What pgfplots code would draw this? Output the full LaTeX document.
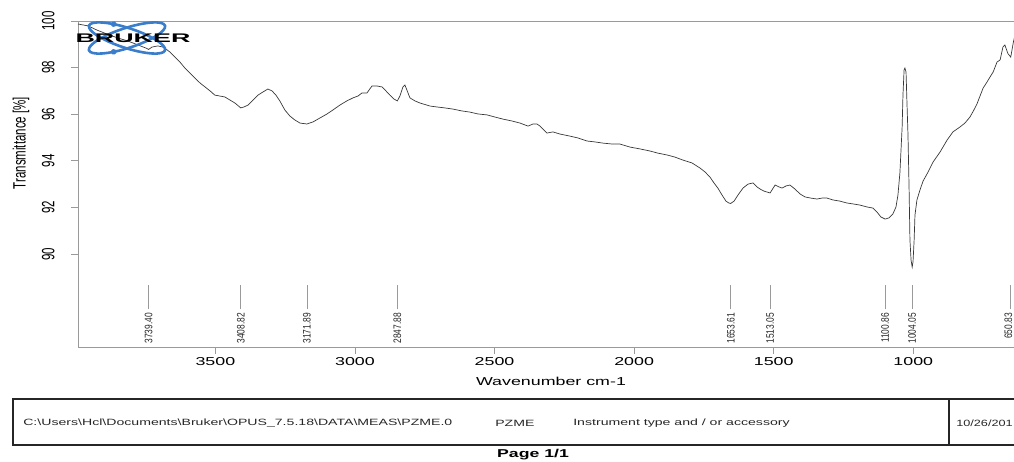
\documentclass[border=0pt]{standalone}
\usepackage{pgfplots}
\pgfplotsset{compat=1.18}
\usepackage{pgfplotstable}
\usepackage{fontspec}
\setmainfont{Liberation Sans}
\definecolor{logoblue}{HTML}{3A7DCB}
\definecolor{axgray}{HTML}{9A9A9A}

\pgfplotstableread{
wn T
3992 99.87
3956 99.79
3924 99.61
3888 99.44
3849 99.27
3813 99.14
3777 98.97
3749 98.84
3739 98.78
3727 98.88
3706 98.93
3688 98.88
3677 98.80
3663 98.67
3645 98.45
3627 98.24
3609 97.98
3591 97.77
3573 97.55
3555 97.34
3537 97.17
3519 97.00
3502 96.82
3484 96.78
3466 96.74
3448 96.61
3430 96.48
3409 96.27
3398 96.31
3383 96.39
3365 96.61
3347 96.82
3330 96.95
3312 97.08
3297 97.00
3283 96.82
3269 96.57
3251 96.18
3233 95.92
3215 95.75
3197 95.62
3172 95.58
3150 95.67
3125 95.84
3100 96.01
3079 96.18
3054 96.39
3029 96.57
3007 96.70
2989 96.78
2975 96.91
2957 96.91
2939 97.21
2921 97.21
2903 97.17
2889 97.00
2875 96.82
2860 96.65
2848 96.57
2839 96.78
2828 97.17
2821 97.25
2814 97.04
2803 96.70
2785 96.57
2767 96.48
2731 96.35
2706 96.31
2678 96.27
2649 96.22
2617 96.14
2588 96.09
2559 96.01
2527 95.97
2499 95.88
2470 95.79
2438 95.71
2409 95.62
2380 95.49
2362 95.58
2348 95.58
2337 95.49
2323 95.32
2312 95.19
2291 95.24
2266 95.15
2230 95.06
2201 94.98
2169 94.85
2140 94.81
2112 94.76
2079 94.72
2051 94.72
2015 94.59
1979 94.51
1943 94.42
1915 94.33
1882 94.25
1854 94.16
1825 94.03
1793 93.91
1764 93.69
1746 93.52
1728 93.30
1714 93.05
1700 92.83
1685 92.53
1671 92.27
1661 92.19
1654 92.17
1642 92.27
1628 92.53
1610 92.83
1592 93.00
1574 93.05
1560 92.88
1549 92.79
1535 92.70
1513 92.62
1495 92.96
1481 92.88
1470 92.83
1456 92.92
1442 92.96
1424 92.79
1406 92.58
1388 92.45
1367 92.40
1345 92.36
1327 92.40
1309 92.40
1288 92.32
1263 92.27
1238 92.19
1216 92.15
1191 92.10
1166 92.02
1144 91.97
1130 91.80
1116 91.59
1101 91.50
1087 91.55
1073 91.72
1062 92.02
1055 92.53
1048 93.48
1044 94.46
1040 95.45
1037 96.82
1033 97.90
1030 97.98
1026 97.81
1023 96.61
1019 95.11
1015 92.75
1012 90.60
1008 89.74
1004 89.44
1001 89.66
997 90.60
994 91.67
987 92.32
976 92.75
965 93.13
947 93.52
929 93.95
904 94.38
879 94.89
858 95.24
833 95.45
815 95.62
797 95.88
783 96.18
772 96.44
761 96.78
750 97.12
736 97.38
725 97.60
714 97.81
700 98.24
689 98.33
679 98.88
672 98.97
661 98.60
651 98.45
642 99.06
636 99.40
}\spec

\begin{document}
\begin{tikzpicture}[x=1pt,y=1pt]
\path[use as bounding box] (0,0) rectangle (1014,462);
\begin{axis}[
  at={(78pt,115pt)}, anchor=south west,
  width=936pt, height=326pt, scale only axis,
  x dir=reverse, xmin=639.3, xmax=3992, ymin=86.01, ymax=100,
  axis x line*=bottom, axis y line*=left,
  axis line style={axgray, line width=0.8pt},
  xtick={1000,1500,2000,2500,3000,3500}, ytick={90,92,94,96,98,100},
  tick align=outside, major tick length=7pt,
  tick style={axgray, line width=0.8pt},
  /pgf/number format/assume math mode=true,
  /pgf/number format/set thousands separator={},
  xticklabel style={font=\fontsize{11.5}{13}\selectfont, xscale=1.55},
  yticklabel style={xshift=-11pt, font=\fontsize{11.5}{13}\selectfont, xscale=1.55, rotate=90, anchor=south},
]
\addplot[black!78, line width=0.7pt] table[x=wn, y=T] {\spec};
\pgfplotsinvokeforeach{3739.40,3408.82,3171.89,2847.88,1653.61,1513.05,1100.86,1004.05}{
  \addplot[axgray, line width=0.8pt] coordinates {(#1,87.64) (#1,88.67)};
  \node[xscale=1.3, rotate=90, anchor=east, inner sep=0pt, font=\fontsize{8.4}{9}\selectfont, black!85] at (axis cs:#1,87.47) {#1};
}
\addplot[axgray, line width=0.8pt] coordinates {(650.83,87.64) (650.83,88.67)};
\node[xshift=-2.5pt, xscale=1.3, rotate=90, anchor=east, inner sep=0pt, font=\fontsize{8.4}{9}\selectfont, black!85] at (axis cs:650.83,87.47) {650.83};
\draw[axgray, line width=0.8pt] (rel axis cs:0,1) -- (rel axis cs:1,1);
\end{axis}
% axis labels
\node[xscale=1.55, font=\fontsize{11.5}{13}\selectfont] at (551,81) {Wavenumber cm-1};
\node[xscale=1.55, rotate=90, font=\fontsize{11.5}{13}\selectfont] at (21,319) {Transmittance [\%]};
% logo
\begin{scope}[shift={(127,424)}]
  \draw[logoblue, line width=2.6pt, rotate=18] (0,0) ellipse (40 and 10);
  \draw[logoblue, line width=2.6pt, rotate=-18] (0,0) ellipse (40 and 10);
  \fill[logoblue, rotate=-18] ({40*cos(115)},{10*sin(115)}) circle (2.8);
  \fill[logoblue, rotate=18] ({40*cos(-115)},{10*sin(-115)}) circle (2.8);
  \node[xscale=2.15, font=\fontsize{12.5}{12}\selectfont\bfseries] at (6,0) {BRUKER};
\end{scope}
% footer
\draw[line width=1.1pt, black!85] (1014,63) -- (13,63) -- (13,17) -- (1014,17);
\draw[line width=1.1pt, black!85] (949,63) -- (949,17);
\begin{scope}[every node/.style={xscale=1.55, anchor=west, inner sep=0pt, font=\fontsize{9.1}{10}\selectfont, black!85}]
  \node at (23,39) {C:\textbackslash Users\textbackslash Hcl\textbackslash Documents\textbackslash Bruker\textbackslash OPUS\_7.5.18\textbackslash DATA\textbackslash MEAS\textbackslash PZME.0};
  \node at (495,39) {PZME};
  \node at (573,39) {Instrument type and / or accessory};
  \node[xscale=0.9] at (956,39) {10/26/201};
\end{scope}
\node[xscale=1.55, font=\fontsize{11.4}{12}\selectfont\bfseries] at (533,7) {Page 1/1};
\end{tikzpicture}
\end{document}
